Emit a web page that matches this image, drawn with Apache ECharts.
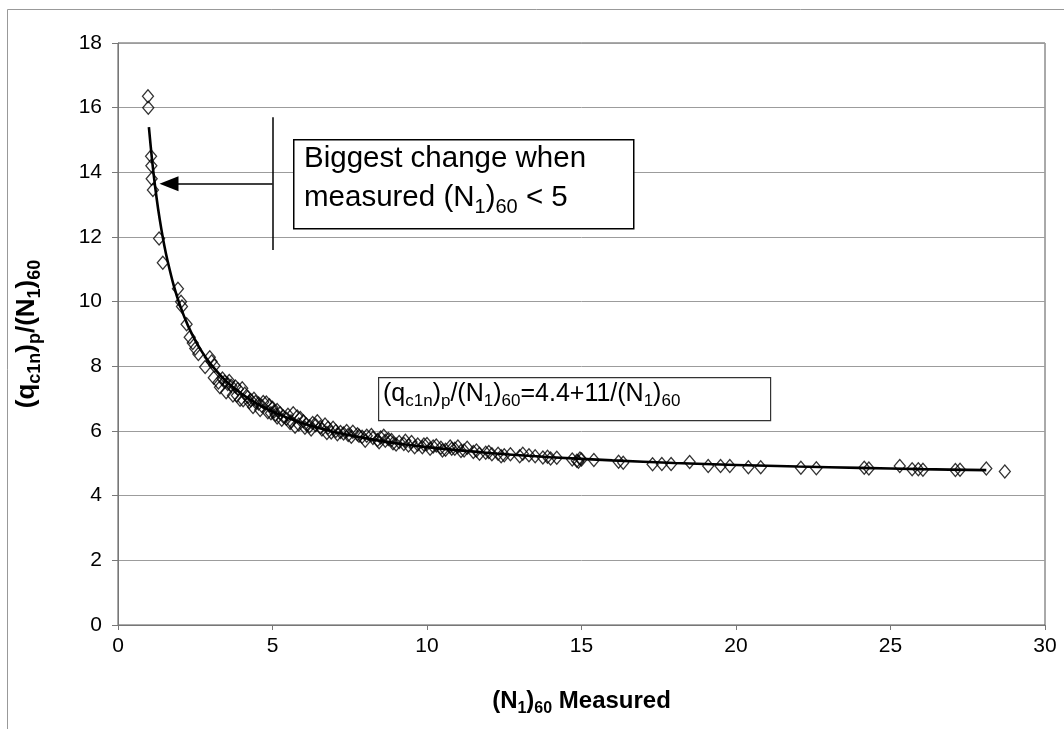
<!DOCTYPE html>
<html>
<head>
<meta charset="utf-8">
<script src="https://cdn.jsdelivr.net/npm/echarts@6/dist/echarts.min.js"></script>
<style>html,body{margin:0;padding:0;background:#fff;}#chart{width:1064px;height:729px;}</style>
</head>
<body>
<div id="chart"></div>
<script>
// Measured (N1)60 values of the scatter points
const measuredN = [
  0.97,0.98,1.07,1.08,1.09,1.13,1.33,1.45,1.94,2.04,2.07,2.22,2.32,2.42,2.5,2.6,2.82,2.97,3.03,3.12,
  3.1,3.25,3.38,3.45,3.55,3.66,3.72,3.8,3.88,3.95,4.02,4.1,4.2,4.3,4.37,4.45,4.55,4.65,4.8,4.85,
  4.9,5.0,5.05,5.15,5.15,5.25,5.35,5.45,5.57,5.67,5.73,5.8,5.9,6.0,6.1,6.2,6.3,6.4,6.55,6.6,
  6.76,6.8,6.96,7.05,7.2,7.3,7.45,7.6,7.75,7.9,8.05,8.25,8.4,8.5,8.65,8.75,8.9,9.1,9.25,9.4,
  9.5,9.7,9.85,10.0,10.1,10.3,10.45,10.6,10.75,10.9,11.1,11.3,11.5,11.7,11.9,12.1,12.3,12.5,12.7,13.1,
  13.5,13.75,13.9,14.2,14.7,14.85,14.95,15.4,16.2,16.35,17.3,17.6,17.9,18.5,19.1,19.5,19.8,20.4,20.8,22.1,
  22.6,24.15,24.3,25.3,25.7,25.9,26.05,27.1,27.25,28.1,28.7,
  3.3,3.5,3.6,3.85,4.05,4.25,4.4,4.6,4.7,4.95,5.1,5.3,5.5,5.6,5.85,6.05,6.25,6.45,6.7,6.9,
  7.1,7.4,7.55,7.8,8.0,8.2,8.45,8.6,8.85,9.0,9.3,9.6,9.9,10.2,10.5,10.8,11.0,11.2,11.6,12.0,
  12.4,13.0,13.3,14.0,14.9,15.0
];
// (qc1n)p/(N1)60 values of the scatter points
const ratio = [
  16.35,16.0,14.5,14.2,13.8,13.45,11.95,11.2,10.4,10.0,9.85,9.3,8.9,8.72,8.55,8.38,7.98,8.28,8.15,8.02,
  7.65,7.5,7.62,7.52,7.45,7.4,7.1,7.38,7.3,6.97,7.32,7.15,7.05,6.95,6.74,6.9,6.85,6.78,6.88,6.58,
  6.8,6.72,6.6,6.42,6.65,6.55,6.45,6.38,6.25,6.55,6.13,6.45,6.4,6.3,6.2,6.15,6.25,6.18,6.12,6.05,
  5.94,6.1,6.1,6.0,5.97,5.92,5.88,5.98,5.9,5.82,5.85,5.78,5.72,5.8,5.7,5.75,5.62,5.66,5.6,5.55,
  5.66,5.58,5.5,5.6,5.45,5.55,5.48,5.42,5.52,5.45,5.38,5.48,5.35,5.3,5.33,5.28,5.3,5.25,5.28,5.3,
  5.22,5.18,5.2,5.17,5.12,5.08,5.15,5.1,5.05,5.02,4.97,4.98,4.98,5.04,4.92,4.92,4.92,4.88,4.88,4.86,
  4.85,4.86,4.84,4.92,4.82,4.82,4.8,4.79,4.8,4.84,4.75,
  7.35,7.2,7.55,7.1,6.95,6.9,7.0,6.65,6.9,6.55,6.5,6.35,6.5,6.3,6.2,6.1,6.05,6.3,6.2,5.95,
  5.9,6.0,5.82,5.85,5.7,5.88,5.65,5.85,5.72,5.58,5.7,5.5,5.58,5.52,5.4,5.45,5.52,5.4,5.4,5.35,
  5.22,5.22,5.25,5.15,5.05,5.12
];
// Trend curve
const fitN = [1.0,1.1,1.2,1.3,1.4,1.5,1.6,1.8,2.0,2.25,2.5,2.75,3.0,3.5,4.0,4.5,5.0,6.0,7.0,8.0,9.0,10,12,14,16,18,20,22,24,26,28.1];
const fitRatio = [15.4,14.4,13.57,12.86,12.26,11.73,11.28,10.51,9.9,9.29,8.8,8.4,8.07,7.54,7.15,6.84,6.6,6.23,5.97,5.78,5.62,5.5,5.32,5.19,5.09,5.01,4.95,4.9,4.86,4.82,4.79];
// Axis ranges
const xRange = [0, 30, 5];
const yRange = [0, 18, 2];
// Annotation anchors (data units)
const markerLineX = 5.0;
const markerLineY = [15.7, 11.6];
const arrowY = 13.65;
const arrowTipX = 1.65;

const FONT = '"Liberation Sans", Arial, sans-serif';
const chart = echarts.init(document.getElementById('chart'));

const scatterData = measuredN.map((x, i) => [x, ratio[i]]);
const fitData = fitN.map((x, i) => [x, fitRatio[i]]);

const subRich = (size, sub, bold) => ({
  n: {fontSize: size, fontFamily: FONT, fontWeight: bold ? 'bold' : 'normal', color: '#000', lineHeight: size + 8, verticalAlign: 'middle'},
  s: {fontSize: sub, fontFamily: FONT, fontWeight: bold ? 'bold' : 'normal', color: '#000', lineHeight: sub + 2, verticalAlign: 'bottom'}
});

chart.setOption({
  animation: false,
  backgroundColor: '#fff',
  grid: {left: 118, right: 19, top: 43, bottom: 104, show: true, borderColor: '#555', borderWidth: 1},
  xAxis: {
    type: 'value', min: xRange[0], max: xRange[1], interval: xRange[2],
    name: '{n|(N}{s|1}{n|)}{s|60}{n| Measured}',
    nameLocation: 'middle', nameGap: 60,
    nameTextStyle: {rich: subRich(24, 16, true)},
    axisLine: {show: true, onZero: false, lineStyle: {color: '#777', width: 1}},
    axisTick: {show: true, length: 5, lineStyle: {color: '#777'}},
    axisLabel: {fontSize: 21, fontFamily: FONT, color: '#000', margin: 11},
    splitLine: {show: false}
  },
  yAxis: {
    type: 'value', min: yRange[0], max: yRange[1], interval: yRange[2],
    name: '{n|(q}{s|c1n}{n|)}{s|p}{n|/(N}{s|1}{n|)}{s|60}',
    nameLocation: 'middle', nameGap: 74, nameRotate: 90,
    nameTextStyle: {rich: subRich(26, 18, true)},
    axisLine: {show: true, lineStyle: {color: '#777', width: 1}},
    axisTick: {show: true, length: 6, lineStyle: {color: '#777'}},
    axisLabel: {fontSize: 21, fontFamily: FONT, color: '#000', margin: 16},
    splitLine: {show: true, lineStyle: {color: '#9c9c9c', width: 1}}
  },
  series: [
    {
      type: 'scatter', data: scatterData, symbol: 'diamond', symbolSize: [11, 13],
      itemStyle: {color: 'rgba(0,0,0,0)', borderColor: '#000', borderWidth: 1.3},
      z: 2, silent: true
    },
    {
      type: 'line', data: fitData, smooth: 0.3, symbol: 'none',
      lineStyle: {color: '#000', width: 2.6}, z: 3, silent: true,
      markLine: {
        silent: true, animation: false,
        label: {show: false},
        lineStyle: {color: '#000', width: 1.5, type: 'solid'},
        symbolSize: [15, 19],
        data: [
          [{coord: [markerLineX, markerLineY[0]], symbol: 'none'}, {coord: [markerLineX, markerLineY[1]], symbol: 'none'}],
          [{coord: [markerLineX, arrowY], symbol: 'none'}, {coord: [arrowTipX, arrowY], symbol: 'triangle'}]
        ]
      }
    }
  ],
  graphic: [
    {type: 'rect', left: 5, top: 7, shape: {width: 1100, height: 800}, style: {fill: 'none', stroke: '#999', lineWidth: 1}, silent: true, z: 0},
    {type: 'rect', left: 293, top: 139, shape: {width: 340, height: 89}, style: {fill: '#fff', stroke: '#000', lineWidth: 1.5}, z: 10},
    {type: 'text', left: 304, top: 144, z: 11, style: {
      text: '{a|Biggest change when}\n{a|measured (N}{b|1}{a|)}{b|60}{a| < 5}',
      rich: {
        a: {fontSize: 29.5, fontFamily: FONT, color: '#000', lineHeight: 39, verticalAlign: 'middle'},
        b: {fontSize: 20, fontFamily: FONT, color: '#000', lineHeight: 24, verticalAlign: 'bottom'}
      }
    }},
    {type: 'rect', left: 378, top: 377, shape: {width: 392, height: 43}, style: {fill: '#fff', stroke: '#333', lineWidth: 1.2}, z: 10},
    {type: 'text', left: 383, top: 382, z: 11, style: {
      text: '{a|(q}{b|c1n}{a|)}{b|p}{a|/(N}{b|1}{a|)}{b|60}{a|=4.4+11/(N}{b|1}{a|)}{b|60}',
      rich: {
        a: {fontSize: 25, fontFamily: FONT, color: '#000', lineHeight: 30, verticalAlign: 'middle'},
        b: {fontSize: 17, fontFamily: FONT, color: '#000', lineHeight: 19, verticalAlign: 'bottom'}
      }
    }}
  ]
});
</script>
</body>
</html>
